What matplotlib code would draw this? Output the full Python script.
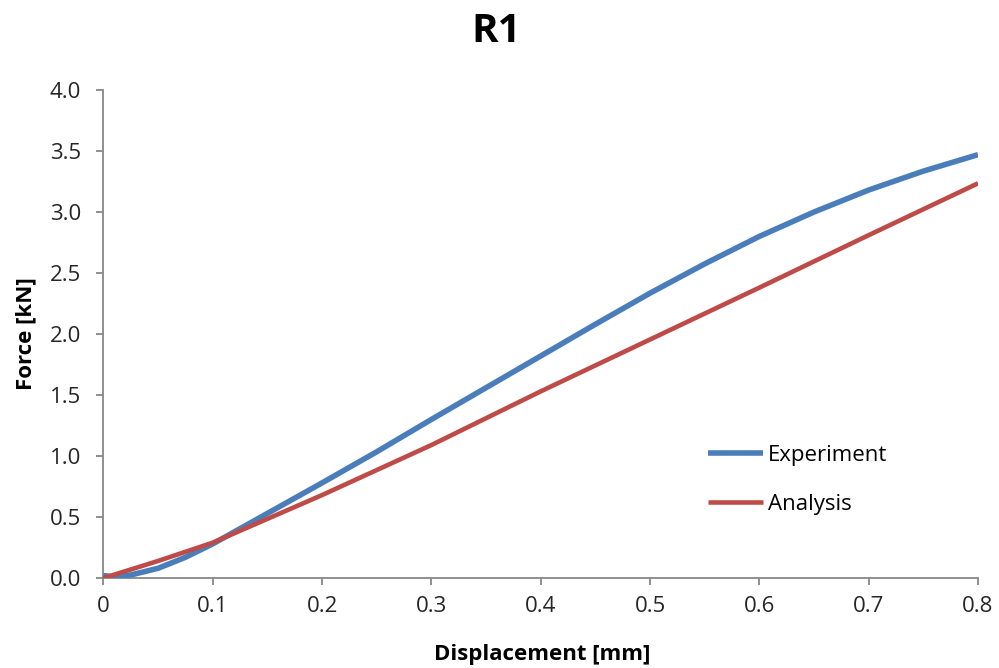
import matplotlib
matplotlib.use("Agg")
import matplotlib.pyplot as plt

plt.rcParams['font.family'] = ['Open Sans', 'DejaVu Sans']

disp_exp = [0.0, 0.01, 0.025, 0.05, 0.075, 0.1, 0.125, 0.15, 0.2, 0.25, 0.3, 0.35, 0.4,
            0.45, 0.5, 0.55, 0.6, 0.65, 0.7, 0.75, 0.8]
force_exp = [0.02, 0.01, 0.025, 0.08, 0.17, 0.28, 0.405, 0.53, 0.78, 1.035, 1.30, 1.56, 1.82,
             2.08, 2.335, 2.575, 2.80, 3.00, 3.18, 3.335, 3.47]

disp_ana = [0.0, 0.05, 0.1, 0.2, 0.3, 0.4, 0.5, 0.6, 0.7, 0.8]
force_ana = [0.0, 0.14, 0.29, 0.68, 1.09, 1.53, 1.955, 2.38, 2.81, 3.235]

xticks = [0, 0.1, 0.2, 0.3, 0.4, 0.5, 0.6, 0.7, 0.8]
xticklabels = ['0', '0.1', '0.2', '0.3', '0.4', '0.5', '0.6', '0.7', '0.8']
yticks = [0.0, 0.5, 1.0, 1.5, 2.0, 2.5, 3.0, 3.5, 4.0]
yticklabels = ['0.0', '0.5', '1.0', '1.5', '2.0', '2.5', '3.0', '3.5', '4.0']

fig = plt.figure(figsize=(9.99, 6.68), dpi=100)
ax = fig.add_axes([0.1036, 0.1347, 0.8754, 0.7306])

ax.plot(disp_exp, force_exp, color='#4a7ebb', lw=4.0, label='Experiment',
        solid_capstyle='butt', solid_joinstyle='round', zorder=3)
ax.plot(disp_ana, force_ana, color='#be4b48', lw=3.3, label='Analysis',
        solid_capstyle='butt', solid_joinstyle='round', zorder=4)

ax.set_xlim(0, 0.8)
ax.set_ylim(0, 4.0)
ax.set_xticks(xticks)
ax.set_xticklabels(xticklabels)
ax.set_yticks(yticks)
ax.set_yticklabels(yticklabels)

for s in ['top', 'right']:
    ax.spines[s].set_visible(False)
for s in ['left', 'bottom']:
    ax.spines[s].set_color('#878787')
    ax.spines[s].set_linewidth(1.3)
ax.tick_params(axis='both', colors='#878787', labelcolor='#262626', labelsize=16,
               length=5, width=1.3, direction='out')
ax.tick_params(axis='x', pad=8)
ax.tick_params(axis='y', pad=11)

ax.set_xlabel('Displacement [mm]', fontsize=16, fontweight='bold', va='baseline')
ax.xaxis.set_label_coords(0.5014, -0.168)
ax.set_ylabel('Force [kN]', fontsize=16, fontweight='bold', va='center')
ax.yaxis.set_label_coords(-0.0886, 0.5)
fig.text(0.497, 0.937, 'R1', fontsize=29, fontweight='bold', ha='center', va='baseline')

leg = ax.legend(loc='center left', bbox_to_anchor=(0.691, 0.201), frameon=False, fontsize=16,
                handlelength=2.5, handletextpad=0.2, labelspacing=1.23,
                borderpad=0, borderaxespad=0)

fig.savefig('out.png', dpi=100)
